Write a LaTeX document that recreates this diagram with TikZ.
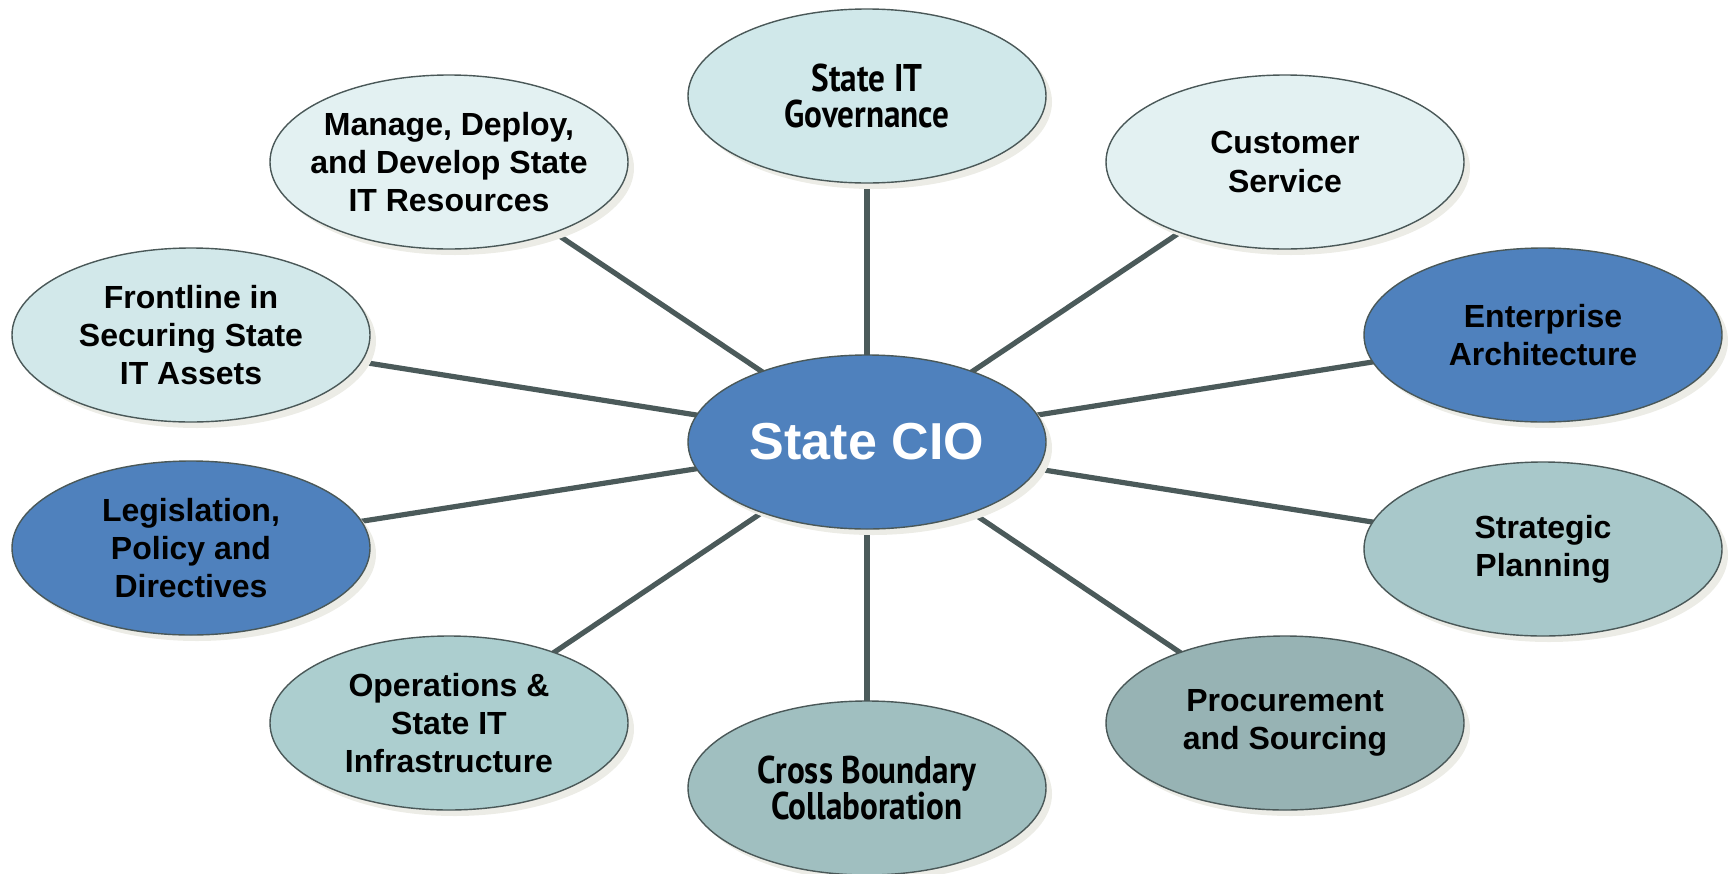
\documentclass[tikz,border=0pt]{standalone}
\usepackage{fontspec}
\setmainfont{Liberation Sans}
\newfontfamily\govf{PT Sans}[FakeStretch=0.86]
\usetikzlibrary{shapes.geometric,shadows,backgrounds}
\definecolor{edgec}{HTML}{4A5858}
\definecolor{linkc}{HTML}{4B5A5A}
\definecolor{shadc}{HTML}{ECECE6}
\definecolor{cgov}{HTML}{D0E8EA}
\definecolor{clight}{HTML}{E3F1F2}
\definecolor{cfront}{HTML}{D2E8EA}
\definecolor{cblue}{HTML}{4F81BD}
\definecolor{cstrat}{HTML}{A8C8CA}
\definecolor{coper}{HTML}{ACCECF}
\definecolor{cproc}{HTML}{97B3B4}
\definecolor{ccross}{HTML}{A0BFC0}
\tikzset{
  bubble/.style={ellipse, draw=edgec, line width=0.7pt, inner xsep=-7pt, inner ysep=0pt,
    minimum width=179pt, minimum height=87pt, align=center,
    font=\bfseries\fontsize{16}{19.2}\selectfont,
    drop shadow={shadow xshift=3pt, shadow yshift=-3pt, fill=shadc, opacity=1}},
  govtext/.style={font=\govf\bfseries\fontsize{19.3}{18.2}\selectfont},
  link/.style={draw=linkc, line width=2.6pt}
}
\begin{document}
\begin{tikzpicture}[x=0.5pt,y=-0.5pt]
\useasboundingbox (0,0) rectangle (1729,873);
\node[bubble, fill=cblue, text=white, font=\bfseries\fontsize{26}{28}\selectfont] (cio) at (867,442) {State CIO};
\node[bubble, fill=cgov, govtext] (gov) at (867,96) {State IT\\Governance};
\node[bubble, fill=clight] (man) at (449,162) {Manage, Deploy,\\and Develop State\\IT Resources};
\node[bubble, fill=clight] (cust) at (1285,162) {Customer\\Service};
\node[bubble, fill=cfront] (front) at (191,335) {Frontline in\\Securing State\\IT Assets};
\node[bubble, fill=cblue] (ent) at (1543,335) {Enterprise\\Architecture};
\node[bubble, fill=cblue] (leg) at (191,548) {Legislation,\\Policy and\\Directives};
\node[bubble, fill=cstrat] (strat) at (1543,549) {Strategic\\Planning};
\node[bubble, fill=coper] (oper) at (449,723) {Operations \&\\State IT\\Infrastructure};
\node[bubble, fill=cproc] (proc) at (1285,723) {Procurement\\and Sourcing};
\node[bubble, fill=ccross, govtext] (cross) at (867,788) {Cross Boundary\\Collaboration};
\begin{scope}[on background layer]
\foreach \n in {gov,man,cust,front,ent,leg,strat,oper,proc,cross}
  \draw[link] (cio.center) -- (\n.center);
\end{scope}
\end{tikzpicture}
\end{document}
